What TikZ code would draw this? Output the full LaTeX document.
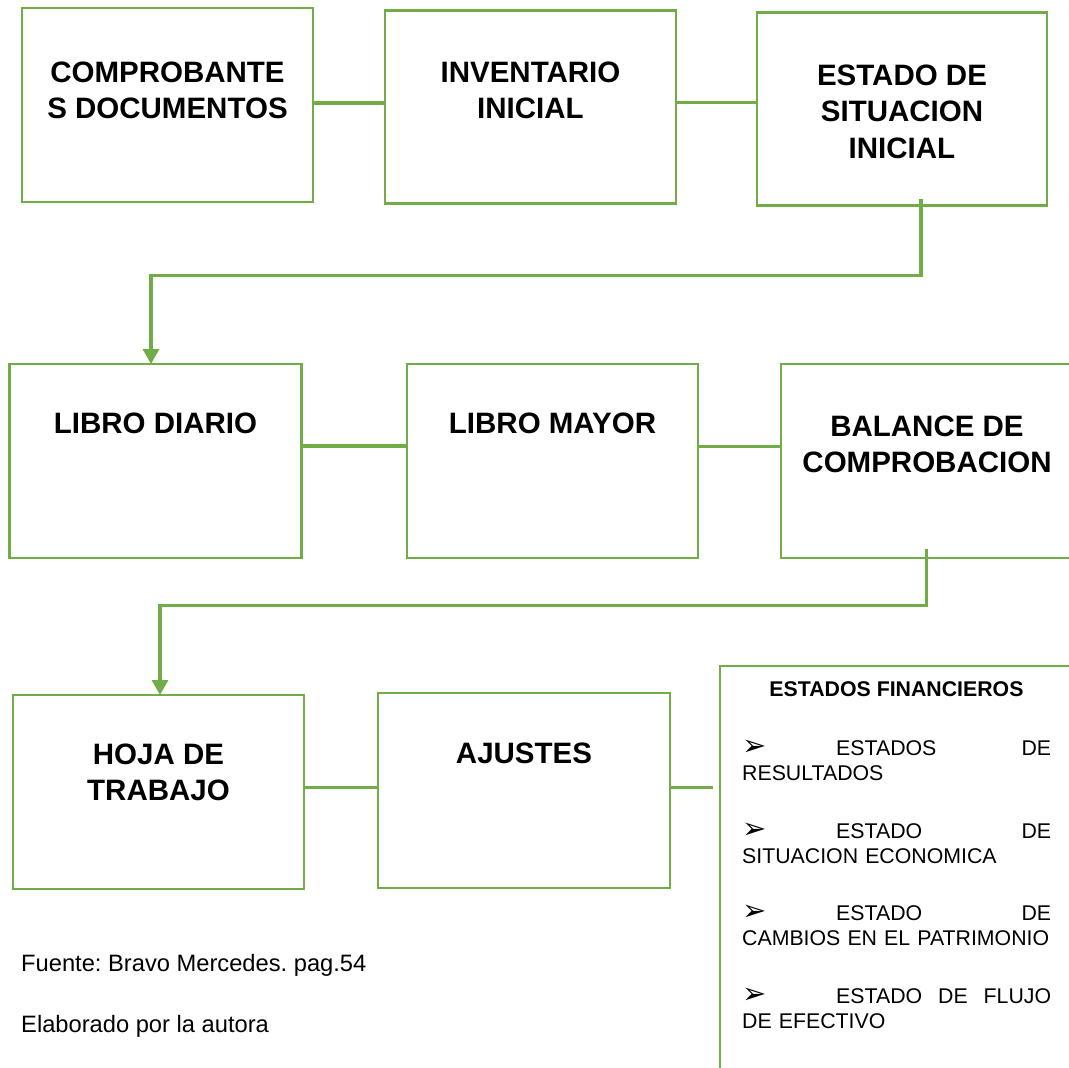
\documentclass[tikz,border=0pt]{standalone}
\usepackage{fontspec}
\setmainfont{Liberation Sans}
\newfontfamily\symfont{DejaVu Sans}
\usetikzlibrary{arrows.meta}
\definecolor{gr}{HTML}{70AD47}
\frenchspacing
\newcommand\efbul{\smash{\raisebox{0pt}{\symfont\fontsize{29}{29}\selectfont ➢}}}
\newcommand\efpar[2]{\leavevmode\hbox to 309pt{\makebox[94pt][l]{\efbul}#1}\\#2}
\begin{document}
\begin{tikzpicture}[x=1pt,y=-1pt,
  box/.style={draw=gr, line width=2.2pt, anchor=north west, inner sep=0pt, outer sep=0pt},
  lbl/.style={anchor=north, inner sep=0pt, align=center, font=\fontsize{29.5}{36.5}\selectfont\bfseries},
  conn/.style={draw=gr, line width=3.3pt},
  arr/.style={conn, -{Triangle[length=15pt,width=16pt]}},
  eftxt/.style={anchor=north west, inner sep=0pt, text width=309pt, align=left, font=\fontsize{21.3}{25}\selectfont},
  foot/.style={anchor=base west, inner sep=0pt, font=\fontsize{23.7}{28}\selectfont}]
\useasboundingbox (0,0) rectangle (1069,1068);
\clip (0,0) rectangle (1069,1068);
% row 1
\node[box, minimum width=291pt, minimum height=194pt] (b1) at (22,8) {};
\node[box, minimum width=291pt, minimum height=193pt] (b2) at (385,10.5) {};
\node[box, minimum width=290pt, minimum height=193pt] (b3) at (757,12.5) {};
\node[lbl] (t1) at (167.5,61.5) {COMPROBANTE\\S DOCUMENTOS};
\node[lbl] (t2) at (530.5,61.5) {INVENTARIO\\INICIAL};
\node[lbl] (t3) at (902,64.5) {ESTADO DE\\SITUACION\\INICIAL};
% row 2
\node[box, minimum width=292pt, minimum height=194pt] (b4) at (9.5,364) {};
\node[box, minimum width=291pt, minimum height=194pt] (b5) at (407,364) {};
\node[box, minimum width=291pt, minimum height=194pt] (b6) at (781,364) {};
\node[lbl] (t4) at (155.5,412.5) {LIBRO DIARIO};
\node[lbl] (t5) at (552.5,412.5) {LIBRO MAYOR};
\node[lbl] (t6) at (927,415.5) {BALANCE DE\\COMPROBACION};
% row 3
\node[box, minimum width=291.6pt, minimum height=194.3pt] (b7) at (12.7,695) {};
\node[box, minimum width=292.3pt, minimum height=194.7pt] (b8) at (377.7,693) {};
\node[lbl] (t7) at (158.5,743.5) {HOJA DE\\TRABAJO};
\node[lbl] (t8) at (524,742.5) {AJUSTES};
% estados financieros panel
\node[box, minimum width=420pt, minimum height=460pt] (ef) at (720,666) {};
\node[anchor=base, inner sep=0pt, font=\fontsize{21.3}{25}\selectfont\bfseries] (eft) at (896.5,696.5) {ESTADOS FINANCIEROS};
\node[eftxt] (p1) at (742,740.5) {\efpar{ESTADOS\hfill DE}{RESULTADOS}};
\node[eftxt] (p2) at (742,823) {\efpar{ESTADO\hfill DE}{SITUACION ECONOMICA}};
\node[eftxt] (p3) at (742,905.5) {\efpar{ESTADO\hfill DE}{CAMBIOS EN EL PATRIMONIO}};
\node[eftxt] (p4) at (742,988.2) {\efpar{ESTADO\hfill DE\hfill FLUJO}{DE EFECTIVO}};
% footer
\node[foot] (f1) at (21,971) {Fuente: Bravo Mercedes. pag.54};
\node[foot] (f2) at (21,1032.3) {Elaborado por la autora};
% connectors
\draw[conn] (b1.east |- 0,103) -- (b2.west |- 0,103);
\draw[conn] (b2.east |- 0,102.5) -- (b3.west |- 0,102.5);
\draw[conn] (b4.east |- 0,446) -- (b5.west |- 0,446);
\draw[conn] (b5.east |- 0,446.5) -- (b6.west |- 0,446.5);
\draw[conn] (b7.east |- 0,787.7) -- (b8.west |- 0,787.7);
\draw[conn, shorten >=7pt] (b8.east |- 0,787.7) -- (ef.west |- 0,787.7);
\draw[arr] ([shift={(19pt,7pt)}]b3.south) -- ++(0,-77pt) -| ([xshift=-4.5pt]b4.north);
\draw[arr] ([yshift=9pt]b6.south) -- ++(0,-56.5pt) -| ([xshift=1.5pt]b7.north);
\end{tikzpicture}
\end{document}
